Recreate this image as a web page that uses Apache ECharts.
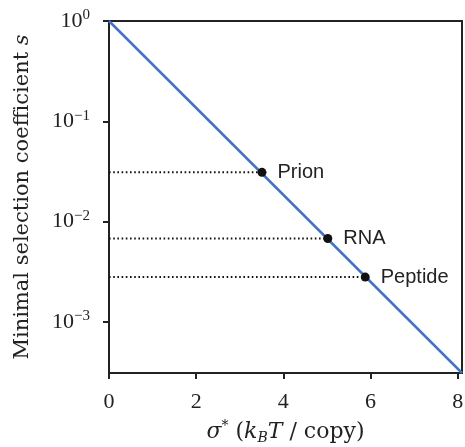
<!DOCTYPE html>
<html>
<head>
<meta charset="utf-8">
<script src="https://cdn.jsdelivr.net/npm/echarts@6/dist/echarts.min.js"></script>
<style>
html,body{margin:0;padding:0;background:#fff;}
#chart{width:465px;height:447px;}
</style>
</head>
<body>
<div id="chart"></div>
<script>
// 三个点
var names = ['Prion', 'RNA', 'Peptide']
var sigmaVals = [3.51, 5.02, 5.88]
var sVals = [0.031, 0.0068, 0.0028]
// 直线两端
var lineSigma = [0, 8.1]
var lineS = [1, 3.1e-4]
// 刻度
var xTicks = [0, 2, 4, 6, 8]
var yTicks = [0.001, 0.01, 0.1, 1]

var serif = 'Liberation Serif'
var titleFont = 'DejaVu Serif'
var sans = 'Liberation Sans'
var axisColor = '#222'

var series = []
// 蓝线
series.push({
	type: 'line',
	data: lineSigma.map(function (x, i) { return [x, lineS[i]] }),
	symbol: 'none',
	lineStyle: { color: '#4472c4', width: 2.5 },
	z: 3
})
// 虚线
names.forEach(function (n, i) {
	series.push({
		type: 'line',
		data: [[0, sVals[i]], [sigmaVals[i], sVals[i]]],
		symbol: 'none',
		lineStyle: { color: '#111', width: 2, type: [1.6, 2.6] },
		z: 2
	})
})
// 点
series.push({
	type: 'scatter',
	data: names.map(function (n, i) { return { name: n, value: [sigmaVals[i], sVals[i]] } }),
	symbolSize: 9,
	itemStyle: { color: '#111', opacity: 1 },
	label: {
		show: true,
		position: 'right',
		distance: 11,
		formatter: '{b}',
		fontFamily: sans,
		fontSize: 20,
		color: '#222'
	},
	z: 5
})

var option = {
	animation: false,
	grid: {
		left: 109, top: 21, right: 3, bottom: 74,
		outerBoundsMode: 'none',
		containLabel: false,
		show: true, borderColor: axisColor, borderWidth: 2
	},
	xAxis: {
		type: 'value',
		min: 0,
		max: 8.1,
		interval: 2,
		splitLine: { show: false },
		axisLine: { lineStyle: { color: axisColor, width: 2 } },
		axisTick: { length: 6, lineStyle: { color: axisColor, width: 2 }, customValues: xTicks },
		axisLabel: { fontFamily: serif, fontSize: 22, color: '#222', margin: 18, customValues: xTicks },
		name: '{i|σ}{sup|*} ({i|k}{sub|B}{i|T} / copy)',
		nameLocation: 'middle',
		nameGap: 46,
		nameTextStyle: {
			fontFamily: titleFont, fontSize: 22, color: '#222', lineHeight: 26,
			rich: {
				i: { fontFamily: titleFont, fontStyle: 'italic', fontSize: 22, color: '#222', lineHeight: 26 },
				sup: { fontFamily: titleFont, fontSize: 14, color: '#222', verticalAlign: 'top', lineHeight: 26 },
				sub: { fontFamily: titleFont, fontStyle: 'italic', fontSize: 14, color: '#222', verticalAlign: 'bottom', lineHeight: 26 }
			}
		}
	},
	yAxis: {
		type: 'log',
		logBase: 10,
		min: 3.1e-4,
		max: 1,
		splitLine: { show: false },
		minorTick: { show: false },
		axisLine: { lineStyle: { color: axisColor, width: 2 } },
		axisTick: { length: 6, lineStyle: { color: axisColor, width: 2 }, customValues: yTicks },
		axisLabel: {
			customValues: yTicks,
			margin: 19,
			formatter: function (v) {
				var e = Math.round(Math.log10(v))
				return '{b|10}{sup|' + (e < 0 ? '\u2212' + (-e) : e) + '}'
			},
			rich: {
				b: { fontFamily: serif, fontSize: 22, color: '#222', lineHeight: 26 },
				sup: { fontFamily: serif, fontSize: 15, color: '#222', verticalAlign: 'top', lineHeight: 26 }
			}
		},
		name: 'Minimal selection coefficient {i|s}',
		nameLocation: 'middle',
		nameGap: 76,
		nameTextStyle: {
			fontFamily: titleFont, fontSize: 21, color: '#222',
			rich: {
				i: { fontFamily: titleFont, fontStyle: 'italic', fontSize: 21, color: '#222' }
			}
		}
	},
	series: series
}

var myChart = echarts.init(document.getElementById('chart'))
myChart.setOption(option)
</script>
</body>
</html>
